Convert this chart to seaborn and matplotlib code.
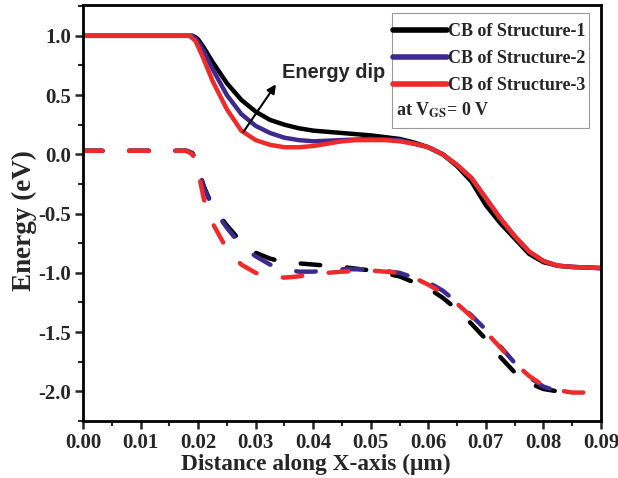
import numpy as np
import pandas as pd
import seaborn as sns
import matplotlib
matplotlib.use("Agg")
import matplotlib.pyplot as plt
from matplotlib.lines import Line2D
from matplotlib.patches import Rectangle
from matplotlib.ticker import MultipleLocator

# ---------------- data ----------------
cb1_x = [0.0, 0.019, 0.0195, 0.02, 0.021, 0.0225, 0.025, 0.0275, 0.03, 0.0325, 0.035, 0.0375,
         0.04, 0.045, 0.05, 0.055, 0.0575, 0.06, 0.0625, 0.065, 0.0675, 0.07, 0.0725, 0.075,
         0.0775, 0.08, 0.0825, 0.085, 0.09]
cb1_y = [1.0, 1.0, 0.99, 0.97, 0.9, 0.78, 0.6, 0.46, 0.36, 0.29, 0.25, 0.22,
         0.2, 0.18, 0.16, 0.13, 0.1, 0.06, 0.0, -0.1, -0.23, -0.43, -0.58, -0.71,
         -0.84, -0.91, -0.94, -0.95, -0.96]

cb2_x = [0.0, 0.019, 0.0195, 0.02, 0.021, 0.0225, 0.025, 0.0275, 0.03, 0.0325, 0.035, 0.0375,
         0.04, 0.045, 0.05, 0.055, 0.0575, 0.06, 0.0625, 0.065, 0.0675, 0.07, 0.0725, 0.075,
         0.0775, 0.08, 0.0825, 0.085, 0.09]
cb2_y = [1.0, 1.0, 0.98, 0.95, 0.87, 0.72, 0.5, 0.34, 0.24, 0.18, 0.14, 0.12,
         0.11, 0.12, 0.13, 0.12, 0.09, 0.06, 0.0, -0.09, -0.2, -0.37, -0.54, -0.69,
         -0.82, -0.9, -0.94, -0.95, -0.96]

cb3_x = [0.0, 0.0185, 0.0195, 0.02, 0.021, 0.0225, 0.025, 0.0275, 0.03, 0.0325, 0.035, 0.0375,
         0.04, 0.0425, 0.045, 0.0475, 0.05, 0.0525, 0.055, 0.0575, 0.06, 0.0625, 0.065, 0.0675,
         0.07, 0.0725, 0.075, 0.0775, 0.08, 0.0825, 0.085, 0.09]
cb3_y = [1.0, 1.0, 0.96, 0.91, 0.8, 0.62, 0.38, 0.2, 0.12, 0.08, 0.06, 0.06,
         0.07, 0.09, 0.11, 0.12, 0.12, 0.12, 0.11, 0.09, 0.06, 0.0, -0.09, -0.2,
         -0.37, -0.54, -0.69, -0.82, -0.9, -0.94, -0.95, -0.96]

vb1_x = [0.0, 0.018, 0.019, 0.0195, 0.02, 0.021, 0.0225, 0.025, 0.0275, 0.03, 0.0325, 0.035,
         0.0375, 0.04, 0.045, 0.05, 0.055, 0.06, 0.0625, 0.065, 0.0675, 0.07, 0.0725, 0.075,
         0.0775, 0.08, 0.0825, 0.0835]
vb1_y = [0.03, 0.03, 0.01, -0.04, -0.12, -0.27, -0.44, -0.6, -0.74, -0.83, -0.88, -0.91,
         -0.92, -0.93, -0.95, -0.98, -1.03, -1.13, -1.21, -1.31, -1.43, -1.56, -1.71, -1.84,
         -1.93, -1.98, -2.0, -2.01]

vb2_x = [0.0, 0.018, 0.019, 0.0195, 0.02, 0.021, 0.0225, 0.025, 0.0275, 0.03, 0.0325, 0.035,
         0.0375, 0.04, 0.045, 0.05, 0.055, 0.06, 0.0625, 0.065, 0.0675, 0.07, 0.0725, 0.075,
         0.0775, 0.08, 0.0825, 0.085]
vb2_y = [0.03, 0.03, 0.01, -0.04, -0.12, -0.28, -0.45, -0.62, -0.77, -0.86, -0.93, -0.97,
         -0.99, -0.99, -0.97, -0.97, -1.0, -1.08, -1.15, -1.25, -1.36, -1.48, -1.62, -1.76,
         -1.88, -1.96, -2.0, -2.01]

vb3_x = [0.0, 0.018, 0.019, 0.0195, 0.02, 0.021, 0.0225, 0.025, 0.0275, 0.03, 0.0325, 0.035,
         0.0375, 0.04, 0.0425, 0.045, 0.05, 0.055, 0.0575, 0.06, 0.0625, 0.065, 0.0675, 0.07,
         0.0725, 0.075, 0.0775, 0.08, 0.0825, 0.085, 0.09]
vb3_y = [0.03, 0.03, 0.0, -0.05, -0.14, -0.38, -0.58, -0.8, -0.93, -1.0, -1.03, -1.04,
         -1.03, -1.01, -1.0, -0.99, -0.98, -1.0, -1.04, -1.1, -1.17, -1.26, -1.37, -1.5,
         -1.63, -1.76, -1.87, -1.95, -1.99, -2.01, -2.01]

labels = ["CB of Structure-1", "CB of Structure-2", "CB of Structure-3"]
colors = ["#000000", "#3d2a8f", "#ee2a2a"]

x_ticks = [0.00, 0.01, 0.02, 0.03, 0.04, 0.05, 0.06, 0.07, 0.08, 0.09]
y_ticks = [-2.0, -1.5, -1.0, -0.5, 0.0, 0.5, 1.0]

# ---------------- style ----------------
sns.set_theme(style="white")
plt.rcParams["font.family"] = ["Liberation Serif", "DejaVu Serif"]
plt.rcParams["font.weight"] = "bold"
plt.rcParams["mathtext.fontset"] = "stix"

W, H = 618, 478
fig = plt.figure(figsize=(W / 100, H / 100), dpi=100)
ax = fig.add_axes([83 / W, 1 - 421 / H, (601 - 83) / W, (421 - 5) / H])

lw = 3.2
dash = (0, (4.4, 6.0))

cb_sets = [(cb1_x, cb1_y), (cb2_x, cb2_y), (cb3_x, cb3_y)]
vb_sets = [(vb1_x, vb1_y), (vb2_x, vb2_y), (vb3_x, vb3_y)]

for (xs, ys), c in zip(vb_sets, colors):
    df = pd.DataFrame({"x": xs, "y": ys})
    sns.lineplot(data=df, x="x", y="y", ax=ax, color=c, lw=lw, sort=False,
                 estimator=None, linestyle=dash, dash_capstyle="round")
for (xs, ys), c in zip(cb_sets, colors):
    df = pd.DataFrame({"x": xs, "y": ys})
    sns.lineplot(data=df, x="x", y="y", ax=ax, color=c, lw=lw, sort=False,
                 estimator=None, solid_capstyle="round")

ax.set_xlim(0.0, 0.09)
ax.set_ylim(-2.25, 1.26)
ax.set_xticks(x_ticks)
ax.set_xticklabels([f"{v:.2f}" for v in x_ticks])
ax.set_yticks(y_ticks)
ax.set_yticklabels([f"{v:.1f}" for v in y_ticks])
ax.xaxis.set_minor_locator(MultipleLocator(0.005))
ax.yaxis.set_minor_locator(MultipleLocator(0.25))
ax.tick_params(axis="both", which="major", direction="out", length=6, width=1.8,
               labelsize=15, bottom=True, left=True, pad=2.5)
ax.tick_params(axis="both", which="minor", direction="out", length=3.5, width=1.5,
               bottom=True, left=True)
for lab in ax.get_xticklabels() + ax.get_yticklabels():
    lab.set_fontweight("bold")
for s in ax.spines.values():
    s.set_linewidth(2)
    s.set_color("black")

ax.set_xlabel("Distance along X-axis (μm)", fontsize=16.8, fontweight="bold")
ax.set_ylabel("Energy (eV)", fontsize=19.5, fontweight="bold")
ax.xaxis.set_label_coords(0.45, -0.08)
ax.yaxis.set_label_coords(-0.088, 0.483)

# arrow and annotation
ax.annotate("", xy=(0.0338, 0.61), xytext=(0.0276, 0.17),
            arrowprops=dict(arrowstyle="-|>", color="black", lw=1.5, mutation_scale=13))
ax.text(0.0346, 0.645, "Energy dip", fontsize=14.4, fontweight="bold",
        family=["Liberation Sans", "DejaVu Sans"], va="baseline", ha="left")

# legend (frame drawn separately so that the extra V_GS row sits inside it)
handles = [Line2D([], [], color=c, lw=4) for c in colors]
leg = ax.legend(handles, labels, loc="upper left",
                bbox_to_anchor=(393 / W, 1 - 23 / H), bbox_transform=fig.transFigure,
                frameon=False, handlelength=3.0,
                handletextpad=0.05, labelspacing=0.56, borderpad=0.0, borderaxespad=0.0,
                prop={"weight": "bold", "size": 13, "family": "Liberation Serif"})
leg.set_zorder(6)
frame = Rectangle((392 / W, 1 - 128 / H), (589 - 392) / W, (128 - 13) / H,
                  transform=fig.transFigure, fill=False,
                  edgecolor="#999999", lw=0.8, zorder=5, clip_on=False)
ax.add_patch(frame)
ax.text(396 / W, 1 - 110 / H, r"at V$_{\mathbf{GS}}$= 0 V", transform=fig.transFigure,
        fontsize=13, fontweight="bold", va="center", ha="left", zorder=6)

fig.savefig("out.png", dpi=100)
